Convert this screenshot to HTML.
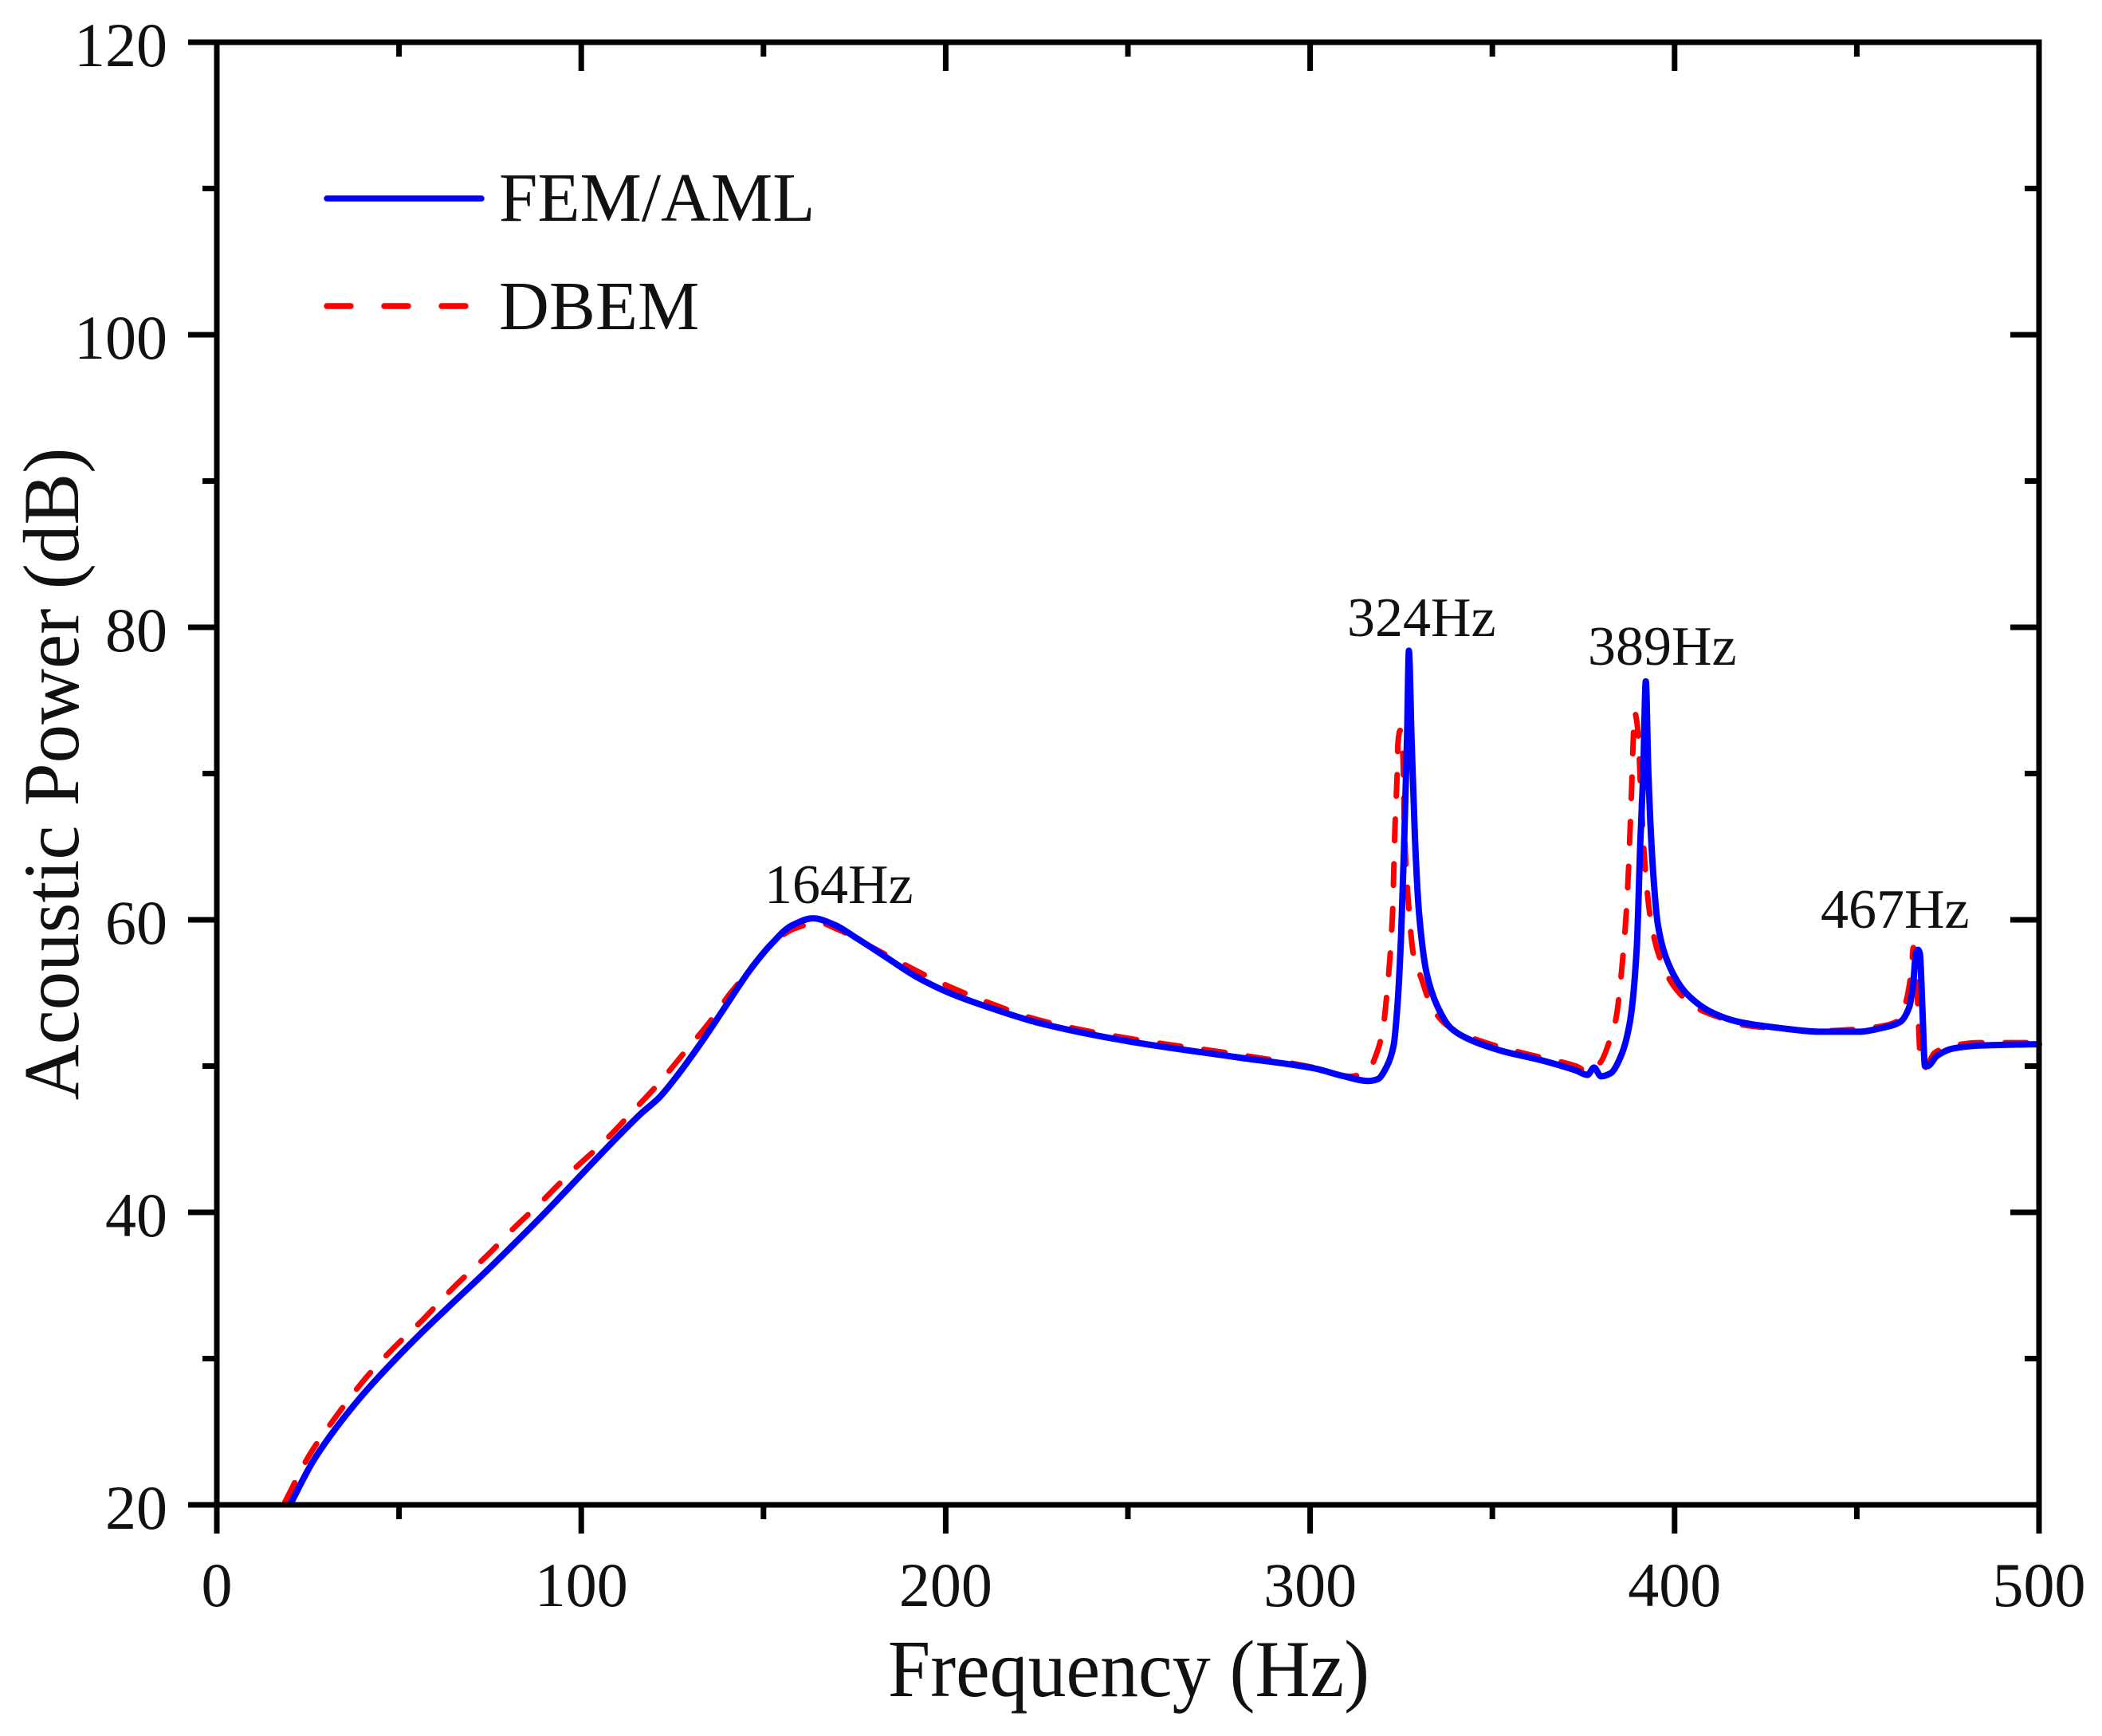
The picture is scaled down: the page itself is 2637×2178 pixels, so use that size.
<!DOCTYPE html>
<html lang="en">
<head>
<meta charset="utf-8">
<title>Acoustic Power vs Frequency</title>
<style>
html,body{margin:0;padding:0;background:#fff;}
svg{display:block;}
text{font-family:"Liberation Serif","Times New Roman",serif;fill:#111;}
</style>
</head>
<body>
<svg id="chart" xmlns="http://www.w3.org/2000/svg" width="2637" height="2178" viewBox="0 0 2637 2178">
  <rect x="0" y="0" width="2637" height="2178" fill="#fff"/>
  <g id="series"></g>
  <g id="axes"></g>
  <g id="labels"></g>
  <text x="0" y="0" font-size="102" text-anchor="middle" transform="translate(1416 2128) scale(0.94 1)">Frequency (Hz)</text>
  <text x="0" y="0" font-size="100" text-anchor="middle" transform="translate(98 971) rotate(-90) scale(0.97 1)">Acoustic Power (dB)</text>
  <g>
    <line x1="410" y1="249" x2="604" y2="249" stroke="#0000ff" stroke-width="7.5" stroke-linecap="round"/>
    <text x="626" y="277" font-size="87">FEM/AML</text>
    <line x1="410" y1="384" x2="584" y2="384" stroke="#ff0000" stroke-width="7.5" stroke-linecap="round" stroke-dasharray="30 42"/>
    <text x="626" y="413" font-size="87">DBEM</text>
  </g>
  <text x="959" y="1133" font-size="70">164Hz</text>
  <text x="1690" y="798" font-size="70">324Hz</text>
  <text x="1992" y="834" font-size="70">389Hz</text>
  <text x="2284" y="1164" font-size="70">467Hz</text>
</svg>
<script>
const xMajorTicks = [0, 100, 200, 300, 400, 500];
const xMinorTicks = [50, 150, 250, 350, 450];
const yMajorTicks = [20, 40, 60, 80, 100, 120];
const yMinorTicks = [30, 50, 70, 90, 110];
const xTickLabels = ["0", "100", "200", "300", "400", "500"];
const yTickLabels = ["20", "40", "60", "80", "100", "120"];

const femFrequency = [20.3, 26.2, 31.2, 39.6, 48, 56.3, 64.7, 73, 81.4, 89.8, 98.2, 106.6, 113.3, 116.6, 121.2, 126.5, 134, 139.5, 146.1, 152, 157.7, 163.6, 169.4, 175.2, 183.3, 192, 201.5, 213.2, 224.8, 250, 280, 301.4, 308.7, 316, 318.5, 321, 322.9, 324, 325, 325.8, 326.6, 327.1, 327.8, 328.8, 329.9, 332, 334.9, 338.6, 343, 352.4, 363.4, 372.9, 376.1, 377.9, 379.8, 382.4, 385.3, 387.8, 389.6, 390.6, 391.4, 392.1, 392.8, 393.9, 395.4, 398.3, 403.5, 410.8, 418, 429, 439.9, 450.8, 456.7, 461.8, 464.4, 465.5, 466.2, 466.8, 467.3, 468, 468.7, 469.4, 472, 476.4, 483.6, 500];
const femPower = [20.1, 22.9, 24.75, 27.4, 29.7, 31.8, 33.8, 35.75, 37.8, 39.9, 42.1, 44.3, 46, 46.8, 47.8, 49.4, 52, 54.05, 56.5, 58.3, 59.6, 60.1, 59.67, 58.8, 57.5, 56.1, 54.95, 53.9, 53, 51.7, 50.6, 49.83, 49.34, 48.98, 49.1, 49.96, 51.4, 54.3, 59.2, 65.3, 72.6, 78.4, 72.6, 65.3, 60.4, 56.3, 54.1, 52.6, 51.9, 51.05, 50.4, 49.7, 49.4, 49.9, 49.3, 49.5, 50.7, 53.1, 58, 65.3, 70.1, 76.3, 70.1, 64.1, 59.7, 57, 54.9, 53.6, 53, 52.6, 52.35, 52.35, 52.6, 53, 54.05, 55.7, 57.7, 57.95, 57.7, 53.9, 50, 50, 50.7, 51.2, 51.4, 51.5];

const dbemFrequency = [18.7, 25.4, 32, 41.3, 48.8, 56.3, 64.7, 75.6, 80.6, 88.6, 97.8, 105.7, 114.5, 121.2, 128.2, 135.5, 141.3, 158.5, 165, 170.8, 179.6, 189, 198.6, 213.2, 224.8, 250, 280, 300, 310.9, 315.6, 318.5, 320, 321, 322.6, 323.3, 323.9, 324.1, 324.7, 325.4, 326, 326.9, 328.3, 330.5, 333.5, 338.6, 348.8, 359.8, 372.9, 376.4, 379.8, 382, 383.8, 386, 387, 388.2, 388.7, 389, 389.9, 390.7, 391.8, 393.2, 395.8, 400.6, 407, 411.5, 418, 429, 439.9, 448.7, 458.2, 461.8, 463.3, 465, 465.5, 466.3, 466.9, 467.6, 468.7, 471.3, 476.4, 483.6, 500];
const dbemPower = [20.2, 23.4, 25.8, 28.8, 30.8, 32.6, 34.8, 37.4, 38.7, 40.6, 42.9, 44.7, 47, 48.8, 50.9, 53.1, 55.1, 59.4, 59.8, 59.3, 58.15, 56.9, 55.7, 54.2, 53.2, 51.9, 50.8, 49.95, 49.3, 49.6, 51.05, 52.6, 54.8, 60.4, 66.5, 70.1, 72.1, 72.95, 71.4, 65.3, 61.4, 57.7, 56, 53.97, 52.6, 51.55, 50.8, 50, 49.6, 50.3, 51.6, 53.1, 58, 61.6, 68.9, 72.6, 74.2, 73, 68.9, 64, 60.4, 57.5, 55.2, 53.85, 53.4, 52.85, 52.55, 52.4, 52.5, 52.8, 53.2, 54.2, 56.6, 58.1, 56.6, 53, 50, 49.9, 50.9, 51.4, 51.6, 51.6];

const NS = 'http://www.w3.org/2000/svg';
const plotLeft = 272, plotRight = 2558, plotTop = 53, plotBottom = 1888;
const xMin = 0, xMax = 500, yMin = 20, yMax = 120;
const majorLen = 36, minorLen = 18, tickWidth = 7;

function xScale(v) { return plotLeft + (v - xMin) / (xMax - xMin) * (plotRight - plotLeft); }
function yScale(v) { return plotBottom - (v - yMin) / (yMax - yMin) * (plotBottom - plotTop); }

function makeLine(x1, y1, x2, y2, w) {
  const l = document.createElementNS(NS, 'line');
  l.setAttribute('x1', x1);
  l.setAttribute('y1', y1);
  l.setAttribute('x2', x2);
  l.setAttribute('y2', y2);
  l.setAttribute('stroke', '#000');
  l.setAttribute('stroke-width', w);
  return l;
}
function makeText(x, y, str, anchor) {
  const t = document.createElementNS(NS, 'text');
  t.setAttribute('x', x);
  t.setAttribute('y', y);
  t.setAttribute('font-size', '78');
  t.setAttribute('text-anchor', anchor);
  t.textContent = str;
  return t;
}
// Monotone cubic path through the data points, so the curve reads as smooth.
function pathFrom(xs, ys) {
  const px = xs.map(xScale), py = ys.map(yScale), n = px.length;
  const slope = [], tan = [];
  for (let i = 0; i < n - 1; i++) slope.push((py[i + 1] - py[i]) / (px[i + 1] - px[i]));
  tan.push(slope[0]);
  for (let i = 1; i < n - 1; i++) {
    if (slope[i - 1] * slope[i] <= 0) { tan.push(0); continue; }
    const h0 = px[i] - px[i - 1], h1 = px[i + 1] - px[i];
    const w0 = 2 * h1 + h0, w1 = h1 + 2 * h0;
    tan.push((w0 + w1) / (w0 / slope[i - 1] + w1 / slope[i]));
  }
  tan.push(slope[n - 2]);
  let d = 'M' + px[0].toFixed(2) + ' ' + py[0].toFixed(2);
  for (let i = 0; i < n - 1; i++) {
    const h = (px[i + 1] - px[i]) / 3;
    d += ' C' + (px[i] + h).toFixed(2) + ' ' + (py[i] + tan[i] * h).toFixed(2) + ' ' +
      (px[i + 1] - h).toFixed(2) + ' ' + (py[i + 1] - tan[i + 1] * h).toFixed(2) + ' ' +
      px[i + 1].toFixed(2) + ' ' + py[i + 1].toFixed(2);
  }
  return d;
}

const seriesLayer = document.getElementById('series');
const axesLayer = document.getElementById('axes');
const labelLayer = document.getElementById('labels');

const dbemLine = document.createElementNS(NS, 'path');


dbemLine.setAttribute('d', pathFrom(dbemFrequency, dbemPower));
dbemLine.setAttribute('fill', 'none');
dbemLine.setAttribute('stroke', '#ff0000');
dbemLine.setAttribute('stroke-width', '7');
dbemLine.setAttribute('stroke-linecap', 'round');
dbemLine.setAttribute('stroke-linejoin', 'round');
dbemLine.setAttribute('stroke-dasharray', '27 29');
seriesLayer.appendChild(dbemLine);

const femLine = document.createElementNS(NS, 'path');


femLine.setAttribute('d', pathFrom(femFrequency, femPower));
femLine.setAttribute('fill', 'none');
femLine.setAttribute('stroke', '#0000ff');
femLine.setAttribute('stroke-width', '8');
femLine.setAttribute('stroke-linecap', 'round');
femLine.setAttribute('stroke-linejoin', 'round');
seriesLayer.appendChild(femLine);

const leftAxis = makeLine(plotLeft, plotTop - 3.5, plotLeft, plotBottom, tickWidth);


axesLayer.appendChild(leftAxis);

const rightAxis = makeLine(plotRight, plotTop - 3.5, plotRight, plotBottom + 3.5, tickWidth);


axesLayer.appendChild(rightAxis);

const topAxis = makeLine(plotLeft, plotTop, plotRight + 3.5, plotTop, tickWidth);


axesLayer.appendChild(topAxis);

const bottomAxis = makeLine(plotLeft, plotBottom, plotRight + 3.5, plotBottom, tickWidth);


axesLayer.appendChild(bottomAxis);

xMajorTicks.forEach(function (v, i) {
  const x = xScale(v);
  const bottomTick = makeLine(x, plotBottom, x, plotBottom + majorLen, tickWidth);
  
  
  axesLayer.appendChild(bottomTick);
  const topTick = makeLine(x, plotTop, x, plotTop + majorLen, tickWidth);
  
  
  axesLayer.appendChild(topTick);
  const label = makeText(x, 2015, xTickLabels[i], 'middle');
  
  
  labelLayer.appendChild(label);
});
xMinorTicks.forEach(function (v) {
  const x = xScale(v);
  const bottomTick = makeLine(x, plotBottom, x, plotBottom + minorLen, tickWidth);
  
  
  axesLayer.appendChild(bottomTick);
  const topTick = makeLine(x, plotTop, x, plotTop + minorLen, tickWidth);
  
  
  axesLayer.appendChild(topTick);
});
yMajorTicks.forEach(function (v, i) {
  const y = yScale(v);
  const leftTick = makeLine(plotLeft - majorLen, y, plotLeft, y, tickWidth);
  
  
  axesLayer.appendChild(leftTick);
  const rightTick = makeLine(plotRight - majorLen, y, plotRight, y, tickWidth);
  
  
  axesLayer.appendChild(rightTick);
  const label = makeText(210, y + 30, yTickLabels[i], 'end');
  
  
  labelLayer.appendChild(label);
});
yMinorTicks.forEach(function (v) {
  const y = yScale(v);
  const leftTick = makeLine(plotLeft - minorLen, y, plotLeft, y, tickWidth);
  
  
  axesLayer.appendChild(leftTick);
  const rightTick = makeLine(plotRight - minorLen, y, plotRight, y, tickWidth);
  
  
  axesLayer.appendChild(rightTick);
});
</script>
</body>
</html>
